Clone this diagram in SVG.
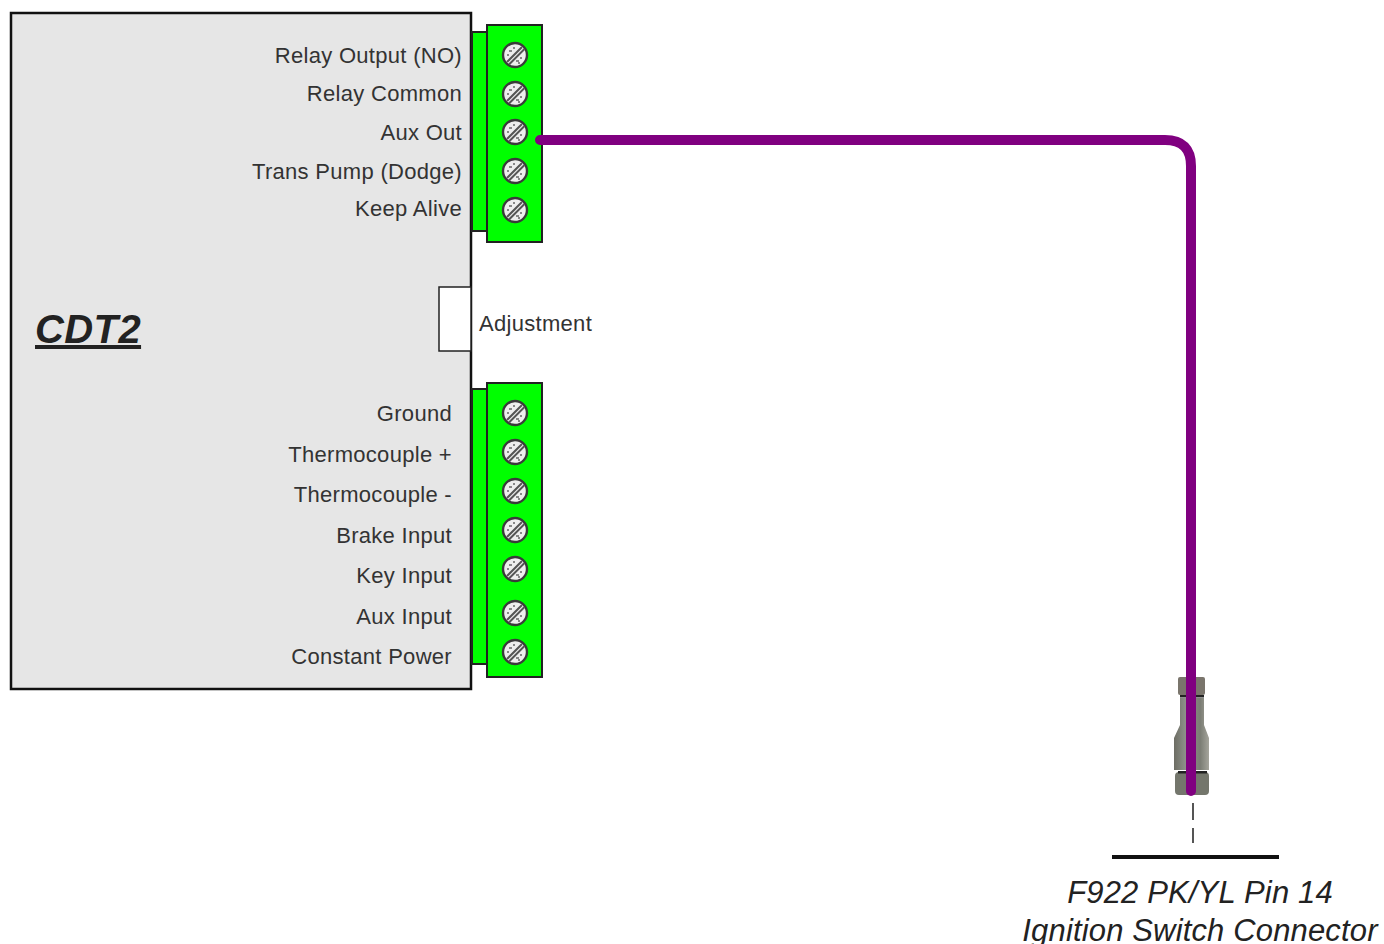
<svg xmlns="http://www.w3.org/2000/svg" xmlns:xlink="http://www.w3.org/1999/xlink" width="1384" height="944" viewBox="0 0 1384 944">
<style>
text{font-family:"Liberation Sans",Arial,sans-serif;fill:#333}
.l{font-size:22px;text-anchor:end;letter-spacing:.3px}
.g{fill:#0f0;stroke:#222;stroke-width:2}
.i{font-style:italic;font-size:31px;text-anchor:middle;fill:#222;letter-spacing:.15px}
</style>
<defs>
<linearGradient id="cg" x1="0" x2="1" y1="0" y2="0"><stop offset="0" stop-color="#6d6d64"/><stop offset=".35" stop-color="#8f938c"/><stop offset=".75" stop-color="#7b7d74"/><stop offset="1" stop-color="#a5a59c"/></linearGradient>
<g id="screw">
<circle r="12" fill="#eee" stroke="#3a3a3a" stroke-width="2.400"/>
<path d="M-8 7L7 -8M-6 9.500L9.500 -6" stroke="#555" stroke-width="2" fill="none"/>
<path d="M-6 -4h3M1 6h3M-2 -7h2M5 3h2M-8 0h2M3 8h2" stroke="#888" stroke-width="1.800" fill="none"/>
</g>
</defs>
<g id="cdt2">
<rect x="11" y="13" width="460" height="676" fill="#e6e6e6" stroke="#111" stroke-width="2.500"/>
<text x="35" y="343" font-size="40" font-weight="bold" font-style="italic" text-decoration="underline" style="fill:#222;letter-spacing:.4px">CDT2</text>
<text class="l" x="462" y="63">Relay Output (NO)</text>
<text class="l" x="462" y="101">Relay Common</text>
<text class="l" x="462" y="140">Aux Out</text>
<text class="l" x="462" y="178.500">Trans Pump (Dodge)</text>
<text class="l" x="462" y="216">Keep Alive</text>
<text class="l" x="452" y="420.500">Ground</text>
<text class="l" x="452" y="461.500">Thermocouple +</text>
<text class="l" x="452" y="501.500">Thermocouple -</text>
<text class="l" x="452" y="542.500">Brake Input</text>
<text class="l" x="452" y="582.500">Key Input</text>
<text class="l" x="452" y="623.500">Aux Input</text>
<text class="l" x="452" y="663.500">Constant Power</text>
</g>
<g id="adjustment">
<rect x="439" y="287" width="32" height="64" fill="#fff" stroke="#222" stroke-width="1.500"/>
<text x="479" y="331" font-size="22" style="letter-spacing:.3px">Adjustment</text>
</g>
<g id="terminal-top">
<rect class="g" x="472" y="32" width="15" height="199"/>
<rect class="g" x="487" y="25" width="55" height="217"/>
<use xlink:href="#screw" href="#screw" x="515" y="55"/>
<use xlink:href="#screw" href="#screw" x="515" y="94"/>
<use xlink:href="#screw" href="#screw" x="515" y="132"/>
<use xlink:href="#screw" href="#screw" x="515" y="171"/>
<use xlink:href="#screw" href="#screw" x="515" y="210"/>
</g>
<g id="terminal-bottom">
<rect class="g" x="472" y="389" width="15" height="275"/>
<rect class="g" x="487" y="383" width="55" height="294"/>
<use xlink:href="#screw" href="#screw" x="515" y="413"/>
<use xlink:href="#screw" href="#screw" x="515" y="452"/>
<use xlink:href="#screw" href="#screw" x="515" y="491"/>
<use xlink:href="#screw" href="#screw" x="515" y="530"/>
<use xlink:href="#screw" href="#screw" x="515" y="569"/>
<use xlink:href="#screw" href="#screw" x="515" y="613"/>
<use xlink:href="#screw" href="#screw" x="515" y="652"/>
</g>
<g id="ignition-connector">
<rect x="1178" y="677" width="27" height="18" rx="2" fill="#7a756c"/>
<rect x="1180" y="695" width="24" height="2.500" fill="#222"/>
<path d="M1180 698H1204V725L1209 738V770H1174V738L1180 725Z" fill="url(#cg)"/>
<rect x="1175" y="772" width="34" height="23" rx="4" fill="#74766c"/>
<rect x="1178" y="771" width="29" height="2.500" fill="#222"/>
<path d="M1193 803V820M1193 828V843" stroke="#555" stroke-width="2" fill="none"/>
<path d="M1112 857H1279" stroke="#111" stroke-width="4" fill="none"/>
<text class="i" x="1200" y="903">F922 PK/YL Pin 14</text>
<text class="i" x="1200" y="941">Ignition Switch Connector</text>
</g>
<g id="connectors">
<path d="M540 140H1165Q1191 140 1191 166V791" fill="none" stroke="#800080" stroke-width="10" stroke-linecap="round"/>
</g>
</svg>
